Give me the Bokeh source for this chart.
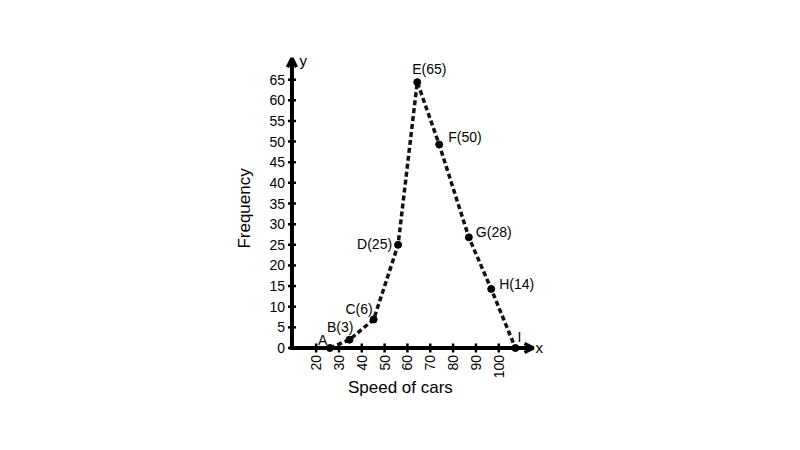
import math
from bokeh.plotting import figure
from bokeh.models import ColumnDataSource, Arrow, OpenHead, Range1d
from bokeh.core.properties import value, field
from bokeh.embed import file_html
from bokeh.resources import INLINE

# ---- data ----
point_labels = ["A", "B(3)", "C(6)", "D(25)", "E(65)", "F(50)", "G(28)", "H(14)", "I"]
speed = [26.0, 34.6, 45.2, 55.9, 64.3, 73.9, 86.9, 96.7, 107.3]
frequency = [0, 2.0, 6.9, 25.0, 64.4, 49.3, 26.8, 14.3, 0]
x_ticks = [20, 30, 40, 50, 60, 70, 80, 90, 100]
y_ticks = [0, 5, 10, 15, 20, 25, 30, 35, 40, 45, 50, 55, 60, 65]
x_title = "Speed of cars"
y_title = "Frequency"

# ---- label placement (screen-pixel offsets, styling only) ----
label_dx = [-2.5, 4, -1, -6, -5, 9, 7, 8, 2]
label_dy = [-8, -13, -10.5, -1, -13, -7, -5, -5, -11]
label_align = ["right", "right", "right", "right", "left", "left", "left", "left", "left"]

# ---- layout constants ----
Y_AXIS_X = 9.4      # where the y axis crosses the x scale
X_ARROW_END = 115.2
Y_ARROW_END = 70.2
FONT = value("Liberation Sans")
INK = "#000000"

p = figure(width=784, height=434,
           x_range=Range1d(-118.3, 225.2), y_range=Range1d(-20.96, 84.18),
           x_axis_type=None, y_axis_type=None,
           toolbar_location=None, output_backend="svg",
           min_border=0, outline_line_color=None)
p.grid.visible = False
p.background_fill_color = "white"
p.border_fill_color = "white"

# tick marks
p.scatter(x=x_ticks, y=[0] * len(x_ticks), marker="dash", angle=math.pi / 2,
          size=9, line_width=2.5, line_color=INK)
p.scatter(x=[Y_AXIS_X] * len(y_ticks), y=y_ticks, marker="dash",
          size=8, line_width=2.5, line_color=INK)

# tick labels
p.text(x=[Y_AXIS_X] * len(y_ticks), y=y_ticks, text=[str(t) for t in y_ticks],
       x_offset=-7, text_align="right", text_baseline="middle",
       text_font=FONT, text_font_size="14px", text_color=INK)
p.text(x=x_ticks, y=[0] * len(x_ticks), text=[str(t) for t in x_ticks],
       angle=math.pi / 2, y_offset=7, text_align="right", text_baseline="middle",
       text_font=FONT, text_font_size="14px", text_color=INK)

# frequency polygon
src = ColumnDataSource(dict(x=speed, y=frequency, label=point_labels,
                            dx=label_dx, dy=label_dy, anchor_align=label_align))
p.line("x", "y", source=src, line_color="#111111", line_width=3.5, line_dash="5 3")
p.scatter("x", "y", source=src, size=7, fill_color=INK, line_color=INK)
p.text("x", "y", text="label", source=src, x_offset="dx", y_offset="dy",
       text_align=field("anchor_align"), text_baseline="middle",
       text_font=FONT, text_font_size="14px", text_color=INK)

# axes with arrow heads
p.add_layout(Arrow(end=OpenHead(size=9, line_width=3.5, line_color=INK),
                   x_start=Y_AXIS_X - 0.9, y_start=0, x_end=X_ARROW_END, y_end=0,
                   line_width=4, line_color=INK))
p.add_layout(Arrow(end=OpenHead(size=9, line_width=3.5, line_color=INK),
                   x_start=Y_AXIS_X, y_start=-0.5, x_end=Y_AXIS_X, y_end=Y_ARROW_END,
                   line_width=4, line_color=INK))

# axis letters
p.text(x=[X_ARROW_END], y=[0], text=["x"], x_offset=2, text_align="left",
       text_baseline="middle", text_font=FONT, text_font_size="15px", text_color=INK)
p.text(x=[Y_AXIS_X], y=[Y_ARROW_END], text=["y"], x_offset=7.5, y_offset=2,
       text_align="left", text_baseline="middle", text_font=FONT,
       text_font_size="15px", text_color=INK)

# axis titles
p.text(x=[Y_AXIS_X], y=[33.8], text=[y_title], x_offset=-47.5, angle=math.pi / 2,
       text_align="center", text_baseline="middle", text_font=FONT,
       text_font_size="17px", text_color=INK)
p.text(x=[56.9], y=[0], text=[x_title], y_offset=39.5, text_align="center",
       text_baseline="middle", text_font=FONT, text_font_size="17px", text_color=INK)

open("out.html", "w").write(file_html(p, INLINE))
